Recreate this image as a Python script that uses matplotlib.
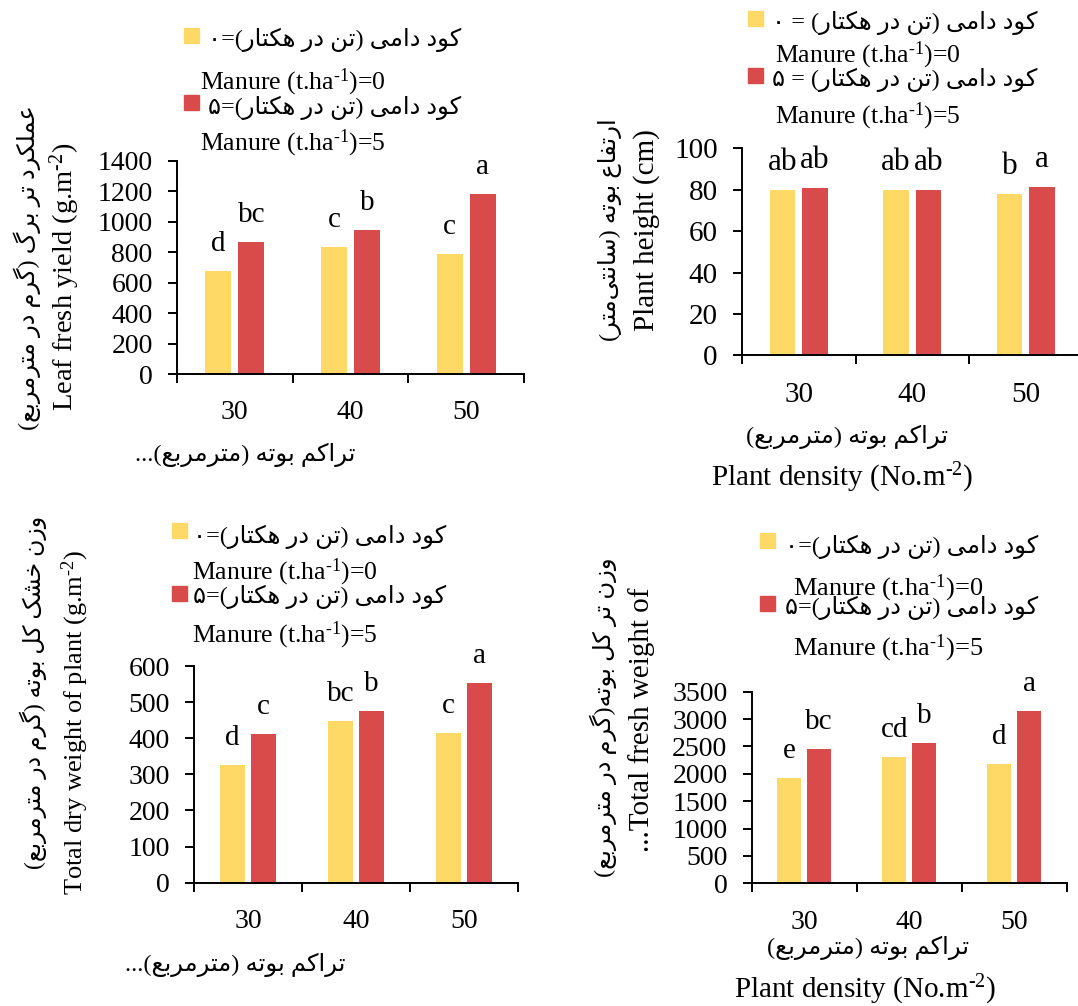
import matplotlib
matplotlib.use("Agg")
import matplotlib.pyplot as plt
from matplotlib.patches import Rectangle

# ---------------------------------------------------------------- data
densities = ["30", "40", "50"]

leaf_m0 = [673, 832, 790]
leaf_m5 = [867, 948, 1184]
leaf_let_m0 = ["d", "c", "c"]
leaf_let_m5 = ["bc", "b", "a"]

height_m0 = [79.7, 79.9, 77.9]
height_m5 = [80.7, 80.0, 81.3]
height_let_m0 = ["ab", "ab", "b"]
height_let_m5 = ["ab", "ab", "a"]

dry_m0 = [327, 448, 415]
dry_m5 = [412, 476, 554]
dry_let_m0 = ["d", "bc", "c"]
dry_let_m5 = ["c", "b", "a"]

fresh_m0 = [1923, 2307, 2179]
fresh_m5 = [2447, 2563, 3153]
fresh_let_m0 = ["e", "cd", "d"]
fresh_let_m5 = ["bc", "b", "a"]

manure_fa = ["کود دامی (تن در هکتار)=۰", "کود دامی (تن در هکتار)=۵"]
manure_fa_spaced = ["کود دامی (تن در هکتار) = ۰", "کود دامی (تن در هکتار) = ۵"]
manure_en = ["Manure (t.ha$\\mathregular{^{\u20101}}$)=0", "Manure (t.ha$\\mathregular{^{\u20101}}$)=5"]

density_fa = "تراکم بوته (مترمربع)"
density_fa_cut = "تراکم بوته (مترمربع)..."
density_en = "Plant density (No.m$\\mathregular{^{\u20102}}$)"

leaf_y_fa = "عملکرد تر برگ (گرم در مترمربع)"
leaf_y_en = "Leaf fresh yield (g.m$\\mathregular{^{\u20102}}$)"
height_y_fa = "ارتفاع بوته (سانتی\u200cمتر)"
height_y_en = "Plant height (cm)"
dry_y_fa = "وزن خشک کل بوته (گرم در مترمربع)"
dry_y_en = "Total dry weight of plant (g.m$\\mathregular{^{\u20102}}$)"
fresh_y_fa = "وزن تر کل بوته(گرم در مترمربع)"
fresh_y_en = "...Total fresh weight of"

# ---------------------------------------------------------------- style
W, H = 1078, 1006
DPI = 100
YELLOW = "#FFD966"
RED = "#D94B4B"
SERIF = ["Liberation Serif", "DejaVu Sans"]

plt.rcParams["font.family"] = SERIF
plt.rcParams["mathtext.fontset"] = "custom"
plt.rcParams["mathtext.rm"] = "Liberation Serif"

# Arabic-script shaping: presentation forms (isolated, final, initial, medial)
FORMS = {
    "\u0627": ("\uFE8D", "\uFE8E"),
    "\u0628": ("\uFE8F", "\uFE90", "\uFE91", "\uFE92"),
    "\u062A": ("\uFE95", "\uFE96", "\uFE97", "\uFE98"),
    "\u062E": ("\uFEA5", "\uFEA6", "\uFEA7", "\uFEA8"),
    "\u062F": ("\uFEA9", "\uFEAA"),
    "\u0631": ("\uFEAD", "\uFEAE"),
    "\u0632": ("\uFEAF", "\uFEB0"),
    "\u0633": ("\uFEB1", "\uFEB2", "\uFEB3", "\uFEB4"),
    "\u0634": ("\uFEB5", "\uFEB6", "\uFEB7", "\uFEB8"),
    "\u0639": ("\uFEC9", "\uFECA", "\uFECB", "\uFECC"),
    "\u0641": ("\uFED1", "\uFED2", "\uFED3", "\uFED4"),
    "\u0644": ("\uFEDD", "\uFEDE", "\uFEDF", "\uFEE0"),
    "\u0645": ("\uFEE1", "\uFEE2", "\uFEE3", "\uFEE4"),
    "\u0646": ("\uFEE5", "\uFEE6", "\uFEE7", "\uFEE8"),
    "\u0647": ("\uFEE9", "\uFEEA", "\uFEEB", "\uFEEC"),
    "\u0648": ("\uFEED", "\uFEEE"),
    "\u06A9": ("\uFB8E", "\uFB8F", "\uFB90", "\uFB91"),
    "\u06AF": ("\uFB92", "\uFB93", "\uFB94", "\uFB95"),
    "\u06CC": ("\uFBFC", "\uFBFD", "\uFBFE", "\uFBFF"),
}
MIRROR = {"(": ")", ")": "("}


def rtl(text):
    out = []
    for i, c in enumerate(text):
        if c not in FORMS:
            if c != "\u200c":
                out.append(c)
            continue
        prev = text[i - 1] if i > 0 else None
        nxt = text[i + 1] if i + 1 < len(text) else None
        f = FORMS[c]
        join_prev = prev in FORMS and len(FORMS[prev]) == 4
        join_next = len(f) == 4 and nxt in FORMS
        if join_prev and join_next:
            g = f[3]
        elif join_prev:
            g = f[1]
        elif join_next:
            g = f[2]
        else:
            g = f[0]
        out.append(g)
    return "".join(MIRROR.get(c, c) for c in reversed(out))


fig = plt.figure(figsize=(W / DPI, H / DPI), dpi=DPI)


def fx(x):
    return x / W


def fy(y):
    return 1 - y / H


def ftext(x, y, s, size, ha="center", rot=0, fa=False, **kw):
    fig.text(fx(x), fy(y), rtl(s) if fa else s, fontsize=size, ha=ha, va="center",
             rotation=rot, rotation_mode="anchor", family=SERIF, **kw)


def panel(box, m0, m5, let0, let5, ymax, ystep, fs_tick=20, fs_let=21):
    left, top, right, bottom = box
    ax = fig.add_axes([fx(left), fy(bottom), (right - left) / W, (bottom - top) / H])
    centers = [i + 0.5 for i in range(len(densities))]
    off, width = 0.143, 0.225
    x0 = [c - off for c in centers]
    x5 = [c + off for c in centers]
    ax.bar(x0, m0, width=width, color=YELLOW, zorder=2)
    ax.bar(x5, m5, width=width, color=RED, zorder=2)
    for xs, vals, lets in ((x0, m0, let0), (x5, m5, let5)):
        for x, v, t in zip(xs, vals, lets):
            ax.annotate(t, (x, v), xytext=(0, 14.4), textcoords="offset points",
                        ha="center", va="baseline", fontsize=fs_let, family=SERIF,
                        annotation_clip=False)
    ax.set_xlim(0, 3)
    ax.set_ylim(0, ymax)
    ax.set_yticks([ystep * k for k in range(int(round(ymax / ystep)) + 1)])
    ax.set_xticks([0, 1, 2, 3])
    ax.set_xticklabels([])
    ax.set_xticks(centers, minor=True)
    ax.set_xticklabels(densities, minor=True)
    for s in ("top", "right"):
        ax.spines[s].set_visible(False)
    for s in ("left", "bottom"):
        ax.spines[s].set_linewidth(1.4)
    ax.tick_params(axis="both", which="major", direction="out", length=6.5,
                   width=1.4, labelsize=fs_tick)
    ax.tick_params(axis="y", pad=11)
    ax.tick_params(axis="x", which="minor", length=0, pad=19, labelsize=fs_tick)
    ax.patch.set_alpha(0)
    return ax


def legend(sq_x, rows, fa_texts, en_texts, fa_x, en_x, fa_size=17.5, en_size=18.5):
    colors = [YELLOW, RED]
    for (sq_y, fa_y, en_y), color, fa, en in zip(rows, colors, fa_texts, en_texts):
        fig.add_artist(Rectangle((fx(sq_x), fy(sq_y + 15)), 15 / W, 15 / H,
                                 transform=fig.transFigure, color=color))
        ftext(fa_x, fa_y, fa, fa_size, ha="left", fa=True)
        ftext(en_x, en_y, en, en_size, ha="left")


# ---------------------------------------------------------------- panel 1: leaf fresh yield
panel((177, 160.7, 524, 374), leaf_m0, leaf_m5, leaf_let_m0, leaf_let_m5, 1400, 200)
legend(184, [(28, 40, 82), (95, 108, 143)], manure_fa, manure_en, 208, 200)
ftext(27, 268, leaf_y_fa, 17.5, rot=90, fa=True)
ftext(65, 277, leaf_y_en, 20.5, rot=90)
ftext(245, 455, density_fa_cut, 17.5, fa=True)

# ---------------------------------------------------------------- panel 2: plant height
panel((742, 148.3, 1082.5, 355.3), height_m0, height_m5, height_let_m0, height_let_m5,
      100, 20, fs_tick=21, fs_let=22.5)
legend(748, [(11, 23, 55), (68, 80, 116)], manure_fa_spaced, manure_en, 772, 775)
ftext(610, 230, height_y_fa, 17.5, rot=90, fa=True)
ftext(647, 230, height_y_en, 21, rot=90)
ftext(847, 437, density_fa, 17.5, fa=True)
ftext(842, 478, density_en, 21)

# ---------------------------------------------------------------- panel 3: total dry weight
panel((194, 666, 518, 882.7), dry_m0, dry_m5, dry_let_m0, dry_let_m5, 600, 100)
legend(172, [(523, 537, 572), (586, 597, 635)], manure_fa, manure_en, 193, 192)
ftext(33, 692, dry_y_fa, 17, rot=90, fa=True)
ftext(75, 722, dry_y_en, 19, rot=90)
ftext(235, 965, density_fa_cut, 17.5, fa=True)

# ---------------------------------------------------------------- panel 4: total fresh weight
panel((751.7, 691.7, 1066.7, 883.3), fresh_m0, fresh_m5, fresh_let_m0, fresh_let_m5, 3500, 500)
legend(760, [(533, 547, 588), (596, 608, 648)], manure_fa, manure_en, 785, 793, en_size=19)
ftext(603, 717, fresh_y_fa, 17.5, rot=90, fa=True)
ftext(642, 720, fresh_y_en, 21, rot=90)
ftext(868, 948, density_fa, 17.5, fa=True)
ftext(865, 990, density_en, 21)

fig.savefig("out.png", dpi=DPI)
